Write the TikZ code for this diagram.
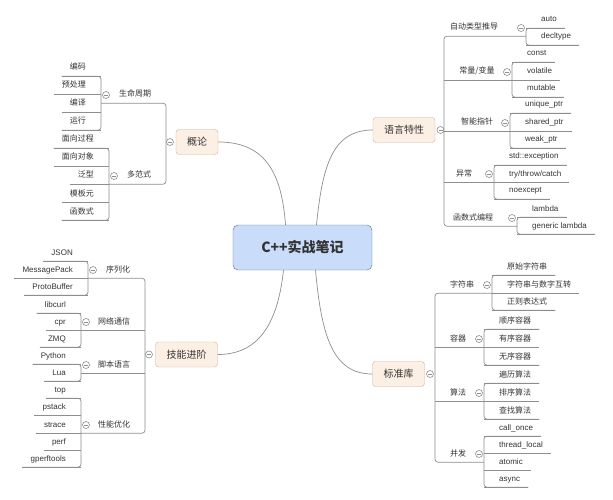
\documentclass[tikz,border=0pt]{standalone}
\usepackage{fontspec}
\setmainfont{Liberation Sans}
\newfontfamily\cjk{Noto Sans CJK SC}
\usepackage{tikz}
\usetikzlibrary{positioning}
\usepackage{xcolor}

\definecolor{linec}{HTML}{8E8E8E}
\definecolor{txtc}{HTML}{333333}
\definecolor{topicfill}{HTML}{FCF0E5}
\definecolor{topicline}{HTML}{CBB29C}
\definecolor{rootfill}{HTML}{C9DCFA}
\definecolor{rootline}{HTML}{5E6E8C}
\def\fs{\fontsize{8}{10}\selectfont}

\begin{document}
\begin{tikzpicture}[x=1pt, y=-1pt,
    br/.style={draw=linec, line width=0.7pt},
    link/.style={draw=linec, line width=0.7pt},
    leaf/.style={text=txtc, font=\fs, inner xsep=8pt, inner ysep=4pt, text height=6pt, text depth=2pt},
    lab/.style={leaf},
    cn/.style={font=\cjk\fs},
    topic/.style={draw=topicline, fill=topicfill, rounded corners=3pt, text=txtc, font=\cjk\fontsize{10}{12}\selectfont, inner xsep=11pt, minimum height=25pt},
    root/.style={draw=rootline, fill=rootfill, rounded corners=5pt, text=txtc, font=\cjk\bfseries\fontsize{14}{16}\selectfont, minimum width=139pt, minimum height=45pt},
    fold/.style={circle, draw=linec, fill=white, inner sep=0pt, minimum size=7pt, line width=0.6pt,
        path picture={\draw[linec, line width=0.5pt] ([xshift=-2pt]path picture bounding box.center) -- ([xshift=2pt]path picture bounding box.center);}}]
    \useasboundingbox (0,0) rectangle (613,500);

    % centre and main topics
    \node[root] (root) at (302.5,247.5) {C++实战笔记};
    \node[topic] (gl) at (197,142) {概论};
    \node[topic] (yy) at (404,130) {语言特性};
    \node[topic] (jn) at (186.5,354.5) {技能进阶};
    \node[topic] (bz) at (398.5,374) {标准库};
    \node[fold, left=2pt of gl] (glF) {};
    \node[fold, right=1.5pt of yy] (yyF) {};
    \node[fold, left=2.5pt of jn] (jnF) {};
    \node[fold, right=1.5pt of bz] (bzF) {};
    \draw[link] ([xshift=-17pt]root.north) .. controls +(-4,-55) and +(45,0) .. (gl.east);
    \draw[link] ([xshift=14pt]root.north) .. controls +(6,-60) and +(-40,0) .. (yy.west);
    \draw[link] ([xshift=-19pt]root.south) .. controls +(-6,55) and +(40,0) .. (jn.east);
    \draw[link] ([xshift=13pt]root.south) .. controls +(6,65) and +(-40,0) .. (bz.west);
    \coordinate (P1) at (166,0);
    \coordinate (P2) at (444,0);
    \coordinate (P3) at (145,0);
    \coordinate (P4) at (435,0);

    % 概论
    \coordinate (smB) at (101,0);
    \node[lab, cn] (sm) at (135,95) {生命周期};
    \node[fold] (smF) at (106,95) {};
    \foreach \y/\t [count=\i] in {68/编码,86/预处理,104/编译,122/运行}{
        \node[leaf, cn, anchor=east] (sm\i) at (94,\y) {\t};
        \draw[br] (sm\i.south west) -- (sm\i.south -| smB);}
    \draw[br, rounded corners=3pt] (sm1.south west) -- (sm1.south -| smB) -- (sm4.south -| smB) -- (sm4.south west);

    \coordinate (dfB) at (109,0);
    \node[lab, cn] (df) at (139,176) {多范式};
    \node[fold] (dfF) at (114,176) {};
    \foreach \y/\t [count=\i] in {140/面向过程,158/面向对象,176/泛型,194/模板元,212/函数式}{
        \node[leaf, cn, anchor=east] (df\i) at (102,\y) {\t};
        \draw[br] (df\i.south west) -- (df\i.south -| dfB);}
    \draw[br, rounded corners=3pt] (df1.south west) -- (df1.south -| dfB) -- (df5.south -| dfB) -- (df5.south west);

    \draw[br, rounded corners=3pt] (sm.south -| smB) -- (sm.south -| P1) -- (df.south -| P1) -- (df.south -| dfB);

    % 语言特性
    \coordinate (zdB) at (526,0);
    \node[lab, cn] (zd) at (474,28) {自动类型推导};
    \node[fold] (zdF) at (521,28) {};
    \foreach \y/\t [count=\i] in {20/auto,37/decltype}{
        \node[leaf, anchor=west] (zd\i) at (533,\y) {\t};
        \draw[br] (zd\i.south -| zdB) -- (zd\i.south east);}
    \draw[br, rounded corners=3pt] (zd1.south east) -- (zd1.south -| zdB) -- (zd2.south -| zdB) -- (zd2.south east);

    \coordinate (clB) at (512,0);
    \node[lab, cn] (cl) at (477,72) {常量/变量};
    \node[fold] (clF) at (507,72) {};
    \foreach \y/\t [count=\i] in {54/const,72/volatile,89/mutable}{
        \node[leaf, anchor=west] (cl\i) at (519,\y) {\t};
        \draw[br] (cl\i.south -| clB) -- (cl\i.south east);}
    \draw[br, rounded corners=3pt] (cl1.south east) -- (cl1.south -| clB) -- (cl3.south -| clB) -- (cl3.south east);
    \draw[br] (cl.south -| P2) -- (cl.south -| clB);

    \coordinate (zzB) at (510,0);
    \node[lab, cn] (zz) at (477,123) {智能指针};
    \node[fold] (zzF) at (505,123) {};
    \foreach \y/\t [count=\i] in {105/unique\_ptr,123/shared\_ptr,140/weak\_ptr}{
        \node[leaf, anchor=west] (zz\i) at (517,\y) {\t};
        \draw[br] (zz\i.south -| zzB) -- (zz\i.south east);}
    \draw[br, rounded corners=3pt] (zz1.south east) -- (zz1.south -| zzB) -- (zz3.south -| zzB) -- (zz3.south east);
    \draw[br] (zz.south -| P2) -- (zz.south -| zzB);

    \coordinate (ycB) at (494,0);
    \node[lab, cn] (yc) at (464,174) {异常};
    \node[fold] (ycF) at (489,174) {};
    \foreach \y/\t [count=\i] in {157/{std::exception},174/{try/throw/catch},191/{noexcept}}{
        \node[leaf, anchor=west] (yc\i) at (501,\y) {\t};
        \draw[br] (yc\i.south -| ycB) -- (yc\i.south east);}
    \draw[br, rounded corners=3pt] (yc1.south east) -- (yc1.south -| ycB) -- (yc3.south -| ycB) -- (yc3.south east);
    \draw[br] (yc.south -| P2) -- (yc.south -| ycB);

    \coordinate (hsB) at (517,0);
    \node[lab, cn] (hs) at (473,218) {函数式编程};
    \node[fold] (hsF) at (512,218) {};
    \foreach \y/\t [count=\i] in {209/lambda,226/generic lambda}{
        \node[leaf, anchor=west] (hs\i) at (524,\y) {\t};
        \draw[br] (hs\i.south -| hsB) -- (hs\i.south east);}
    \draw[br, rounded corners=3pt] (hs1.south east) -- (hs1.south -| hsB) -- (hs2.south -| hsB) -- (hs2.south east);

    \draw[br, rounded corners=3pt] (zd.south -| zdB) -- (zd.south -| P2) -- (hs.south -| P2) -- (hs.south -| hsB);

    % 技能进阶
    \coordinate (xlB) at (88,0);
    \node[lab, cn] (xl) at (118,270) {序列化};
    \node[fold] (xlF) at (93,270) {};
    \foreach \y/\t [count=\i] in {253/JSON,270/MessagePack,287/ProtoBuffer}{
        \node[leaf, anchor=east] (xl\i) at (81,\y) {\t};
        \draw[br] (xl\i.south west) -- (xl\i.south -| xlB);}
    \draw[br, rounded corners=3pt] (xl1.south west) -- (xl1.south -| xlB) -- (xl3.south -| xlB) -- (xl3.south west);

    \coordinate (wlB) at (81,0);
    \node[lab, cn] (wl) at (114,322) {网络通信};
    \node[fold] (wlF) at (86,322) {};
    \foreach \y/\t [count=\i] in {305/libcurl,322/cpr,339/ZMQ}{
        \node[leaf, anchor=east] (wl\i) at (74,\y) {\t};
        \draw[br] (wl\i.south west) -- (wl\i.south -| wlB);}
    \draw[br, rounded corners=3pt] (wl1.south west) -- (wl1.south -| wlB) -- (wl3.south -| wlB) -- (wl3.south west);
    \draw[br] (wl.south -| P3) -- (wl.south -| wlB);

    \coordinate (jbB) at (81,0);
    \node[lab, cn] (jb) at (114,365) {脚本语言};
    \node[fold] (jbF) at (86,365) {};
    \foreach \y/\t [count=\i] in {356/Python,373/Lua}{
        \node[leaf, anchor=east] (jb\i) at (74,\y) {\t};
        \draw[br] (jb\i.south west) -- (jb\i.south -| jbB);}
    \draw[br, rounded corners=3pt] (jb1.south west) -- (jb1.south -| jbB) -- (jb2.south -| jbB) -- (jb2.south west);
    \draw[br] (jb.south -| P3) -- (jb.south -| jbB);

    \coordinate (xnB) at (81,0);
    \node[lab, cn] (xn) at (114,425) {性能优化};
    \node[fold] (xnF) at (86,425) {};
    \foreach \y/\t [count=\i] in {390/top,407/pstack,425/strace,442/perf,459/gperftools}{
        \node[leaf, anchor=east] (xn\i) at (74,\y) {\t};
        \draw[br] (xn\i.south west) -- (xn\i.south -| xnB);}
    \draw[br, rounded corners=3pt] (xn1.south west) -- (xn1.south -| xnB) -- (xn5.south -| xnB) -- (xn5.south west);

    \draw[br, rounded corners=3pt] (xl.south -| xlB) -- (xl.south -| P3) -- (xn.south -| P3) -- (xn.south -| xnB);

    % 标准库
    \coordinate (zfB) at (492,0);
    \node[lab, cn] (zf) at (462,285) {字符串};
    \node[fold] (zfF) at (487,285) {};
    \foreach \y/\t [count=\i] in {267/原始字符串,285/字符串与数字互转,302/正则表达式}{
        \node[leaf, cn, anchor=west] (zf\i) at (499,\y) {\t};
        \draw[br] (zf\i.south -| zfB) -- (zf\i.south east);}
    \draw[br, rounded corners=3pt] (zf1.south east) -- (zf1.south -| zfB) -- (zf3.south -| zfB) -- (zf3.south east);

    \coordinate (rqB) at (484,0);
    \node[lab, cn] (rq) at (458,339) {容器};
    \node[fold] (rqF) at (479,339) {};
    \foreach \y/\t [count=\i] in {321/顺序容器,339/有序容器,357/无序容器}{
        \node[leaf, cn, anchor=west] (rq\i) at (491,\y) {\t};
        \draw[br] (rq\i.south -| rqB) -- (rq\i.south east);}
    \draw[br, rounded corners=3pt] (rq1.south east) -- (rq1.south -| rqB) -- (rq3.south -| rqB) -- (rq3.south east);
    \draw[br] (rq.south -| P4) -- (rq.south -| rqB);

    \coordinate (sfB) at (484,0);
    \node[lab, cn] (sf) at (458,393) {算法};
    \node[fold] (sfF) at (479,393) {};
    \foreach \y/\t [count=\i] in {375/遍历算法,393/排序算法,411/查找算法}{
        \node[leaf, cn, anchor=west] (sf\i) at (491,\y) {\t};
        \draw[br] (sf\i.south -| sfB) -- (sf\i.south east);}
    \draw[br, rounded corners=3pt] (sf1.south east) -- (sf1.south -| sfB) -- (sf3.south -| sfB) -- (sf3.south east);
    \draw[br] (sf.south -| P4) -- (sf.south -| sfB);

    \coordinate (bfB) at (484,0);
    \node[lab, cn] (bf) at (458,454) {并发};
    \node[fold] (bfF) at (479,454) {};
    \foreach \y/\t [count=\i] in {428/call\_once,445/thread\_local,462/atomic,479/async}{
        \node[leaf, anchor=west] (bf\i) at (491,\y) {\t};
        \draw[br] (bf\i.south -| bfB) -- (bf\i.south east);}
    \draw[br, rounded corners=3pt] (bf1.south east) -- (bf1.south -| bfB) -- (bf4.south -| bfB) -- (bf4.south east);

    \draw[br, rounded corners=3pt] (zf.south -| zfB) -- (zf.south -| P4) -- (bf.south -| P4) -- (bf.south -| bfB);
\end{tikzpicture}
\end{document}
